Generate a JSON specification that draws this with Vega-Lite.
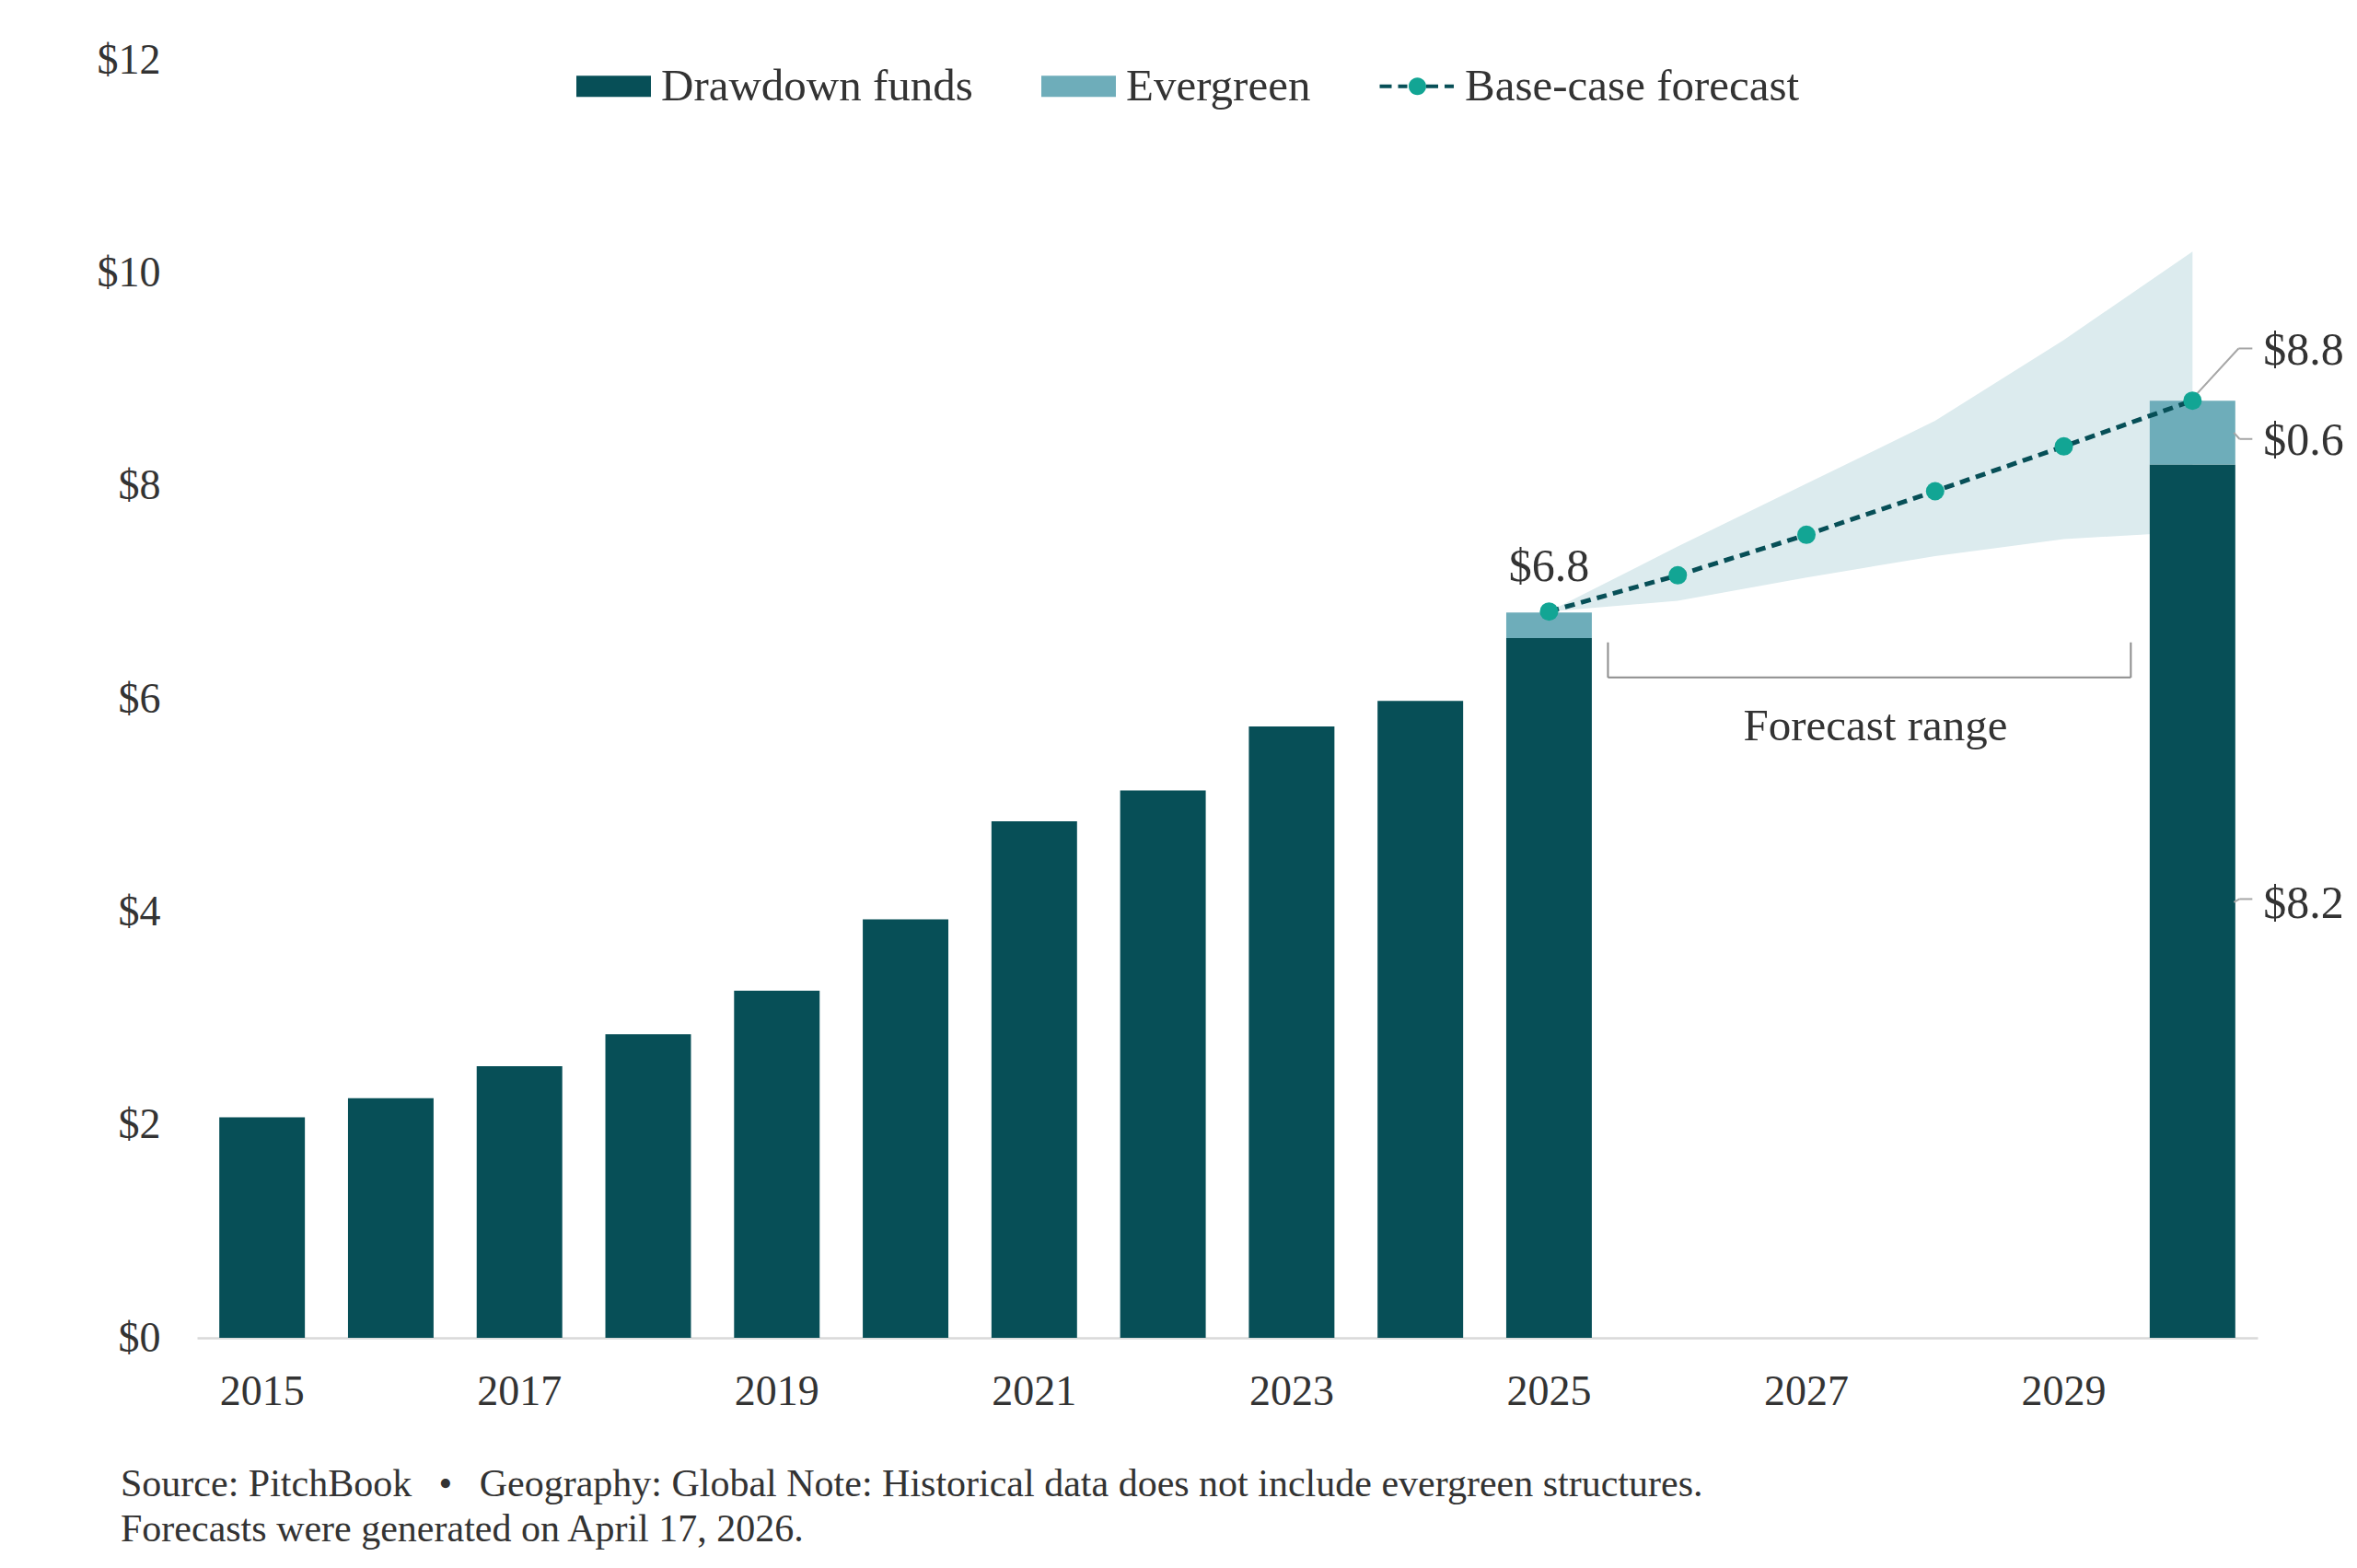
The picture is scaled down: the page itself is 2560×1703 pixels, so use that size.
{
  "$schema": "https://vega.github.io/schema/vega-lite/v6.json",
  "width": 2238,
  "height": 1388,
  "autosize": {"type": "none"},
  "padding": {"left": 214, "top": 65, "right": 108, "bottom": 250},
  "background": "white",
  "config": {
    "view": {"stroke": null},
    "font": "Liberation Serif",
    "axis": {"labelFont": "Liberation Serif", "labelColor": "#333333", "grid": false, "ticks": false, "title": null},
    "legend": {"labelFont": "Liberation Serif"}
  },
  "title": {
    "text": ["Source: PitchBook\u2002\u2009•\u2002\u2009Geography: Global Note: Historical data does not include evergreen structures.", "Forecasts were generated on April 17, 2026."],
    "orient": "bottom",
    "anchor": "start",
    "frame": "group",
    "dx": -83,
    "offset": 58,
    "fontSize": 42,
    "fontWeight": "normal",
    "font": "Liberation Serif",
    "color": "#333333",
    "lineHeight": 49,
    "baseline": "top"
  },
  "datasets": {
    "bars": [
      {"year": 2015, "series": "Drawdown funds", "value": 2.07},
      {"year": 2016, "series": "Drawdown funds", "value": 2.25},
      {"year": 2017, "series": "Drawdown funds", "value": 2.55},
      {"year": 2018, "series": "Drawdown funds", "value": 2.85},
      {"year": 2019, "series": "Drawdown funds", "value": 3.26},
      {"year": 2020, "series": "Drawdown funds", "value": 3.93},
      {"year": 2021, "series": "Drawdown funds", "value": 4.85},
      {"year": 2022, "series": "Drawdown funds", "value": 5.14},
      {"year": 2023, "series": "Drawdown funds", "value": 5.74},
      {"year": 2024, "series": "Drawdown funds", "value": 5.98},
      {"year": 2025, "series": "Drawdown funds", "value": 6.57},
      {"year": 2025, "series": "Evergreen", "value": 0.24},
      {"year": 2030, "series": "Drawdown funds", "value": 8.2},
      {"year": 2030, "series": "Evergreen", "value": 0.6}
    ],
    "forecast": [
      {"year": 2025, "value": 6.82, "lo": 6.82, "hi": 6.82},
      {"year": 2026, "value": 7.16, "lo": 6.92, "hi": 7.43},
      {"year": 2027, "value": 7.54, "lo": 7.14, "hi": 8.02},
      {"year": 2028, "value": 7.95, "lo": 7.34, "hi": 8.61},
      {"year": 2029, "value": 8.37, "lo": 7.5, "hi": 9.37},
      {"year": 2030, "value": 8.8, "lo": 7.57, "hi": 10.2}
    ],
    "bracket": [{"start": 2025, "end": 2030, "y": 6.2, "top": 6.53, "mid": 2027, "labely": 5.74, "label": "Forecast range"}],
    "leaderMain": [{"year": 2030, "y": 8.82, "y2": 9.29}],
    "leaderSmall": [
      {"year": 2030, "y": 8.5, "y2": 8.44},
      {"year": 2030, "y": 4.09, "y2": 4.12}
    ],
    "topLabel": [{"year": 2025, "y": 7.24, "label": "$6.8"}],
    "rightLabels": [
      {"year": 2030, "y": 9.27, "label": "$8.8"},
      {"year": 2030, "y": 8.42, "label": "$0.6"},
      {"year": 2030, "y": 4.07, "label": "$8.2"}
    ]
  },
  "layer": [
    {
      "data": {"name": "forecast"},
      "mark": {"type": "area", "color": "#dcebee", "opacity": 1},
      "encoding": {
        "x": {
          "field": "year", "type": "ordinal",
          "scale": {"domain": [2015,2016,2017,2018,2019,2020,2021,2022,2023,2024,2025,2026,2027,2028,2029,2030], "paddingInner": 0.335, "paddingOuter": 0.173},
          "axis": {"values": [2015,2017,2019,2021,2023,2025,2027,2029], "labelAngle": 0, "domain": true, "domainColor": "#d9d9d9", "domainWidth": 2.5, "labelFontSize": 46, "labelPadding": 36, "title": null}
        },
        "y": {
          "field": "lo", "type": "quantitative",
          "scale": {"domain": [0, 12], "nice": false, "zero": true},
          "axis": {"values": [0,2,4,6,8,10,12], "labelExpr": "'$' + datum.value", "domain": false, "labelFontSize": 46, "labelPadding": 40, "title": null}
        },
        "y2": {"field": "hi"}
      }
    },
    {
      "data": {"name": "bars"},
      "mark": {"type": "bar"},
      "encoding": {
        "x": {"field": "year", "type": "ordinal"},
        "y": {"field": "value", "type": "quantitative", "stack": "zero"},
        "order": {"field": "series", "sort": "ascending"},
        "color": {
          "field": "series", "type": "nominal",
          "scale": {"domain": ["Drawdown funds", "Evergreen", "Base-case forecast"], "range": ["#074f57", "#6eadba", "#12a594"]},
          "legend": {
            "orient": "none", "legendX": 410, "legendY": -14, "direction": "horizontal",
            "title": null, "padding": 0,
            "symbolSize": 6561, "symbolStrokeWidth": 4,
            "labelFontSize": 49, "labelColor": "#333333", "labelOffset": 9, "columnPadding": 66, "labelLimit": 2000,
            "encode": {
              "symbols": {
                "update": {
                  "shape": {"signal": "datum.value === 'Base-case forecast' ? 'M-1.012,0H-0.235A0.235,0.235,0,1,0,0.235,0A0.235,0.235,0,1,0,-0.235,0M0.235,0H1.012' : 'M-1,-0.284H1V0.284H-1Z'"},
                  "stroke": {"signal": "datum.value === 'Base-case forecast' ? '#074f57' : 'transparent'"},
                  "strokeDash": {"value": [13, 7, 10, 63.7, 10, 7, 13, 300]},
                  "opacity": {"value": 1},
                  "fillOpacity": {"value": 1}
                }
              }
            }
          }
        }
      }
    },
    {
      "data": {"name": "bracket"},
      "mark": {"type": "rule", "color": "#8c8c8c", "strokeWidth": 2, "xOffset": 64, "x2Offset": -67},
      "encoding": {
        "x": {"field": "start", "type": "ordinal"},
        "x2": {"field": "end"},
        "y": {"field": "y", "type": "quantitative"}
      }
    },
    {
      "data": {"name": "bracket"},
      "mark": {"type": "rule", "color": "#8c8c8c", "strokeWidth": 2, "xOffset": 64},
      "encoding": {
        "x": {"field": "start", "type": "ordinal"},
        "y": {"field": "y", "type": "quantitative"},
        "y2": {"field": "top"}
      }
    },
    {
      "data": {"name": "bracket"},
      "mark": {"type": "rule", "color": "#8c8c8c", "strokeWidth": 2, "xOffset": -67},
      "encoding": {
        "x": {"field": "end", "type": "ordinal"},
        "y": {"field": "y", "type": "quantitative"},
        "y2": {"field": "top"}
      }
    },
    {
      "data": {"name": "bracket"},
      "mark": {"type": "text", "font": "Liberation Serif", "fontSize": 49, "color": "#333333", "align": "center", "baseline": "middle", "dx": 75},
      "encoding": {
        "x": {"field": "mid", "type": "ordinal"},
        "y": {"field": "labely", "type": "quantitative"},
        "text": {"field": "label"}
      }
    },
    {
      "data": {"name": "leaderMain"},
      "mark": {"type": "rule", "color": "#a6a6a6", "strokeWidth": 2, "xOffset": 0, "x2Offset": 50},
      "encoding": {
        "x": {"field": "year", "type": "ordinal"},
        "x2": {"field": "year"},
        "y": {"field": "y", "type": "quantitative"},
        "y2": {"field": "y2"}
      }
    },
    {
      "data": {"name": "leaderMain"},
      "mark": {"type": "rule", "color": "#a6a6a6", "strokeWidth": 2, "xOffset": 50, "x2Offset": 65},
      "encoding": {
        "x": {"field": "year", "type": "ordinal"},
        "x2": {"field": "year"},
        "y": {"field": "y2", "type": "quantitative"}
      }
    },
    {
      "data": {"name": "leaderSmall"},
      "mark": {"type": "rule", "color": "#a6a6a6", "strokeWidth": 2, "xOffset": 45, "x2Offset": 51},
      "encoding": {
        "x": {"field": "year", "type": "ordinal"},
        "x2": {"field": "year"},
        "y": {"field": "y", "type": "quantitative"},
        "y2": {"field": "y2"}
      }
    },
    {
      "data": {"name": "leaderSmall"},
      "mark": {"type": "rule", "color": "#a6a6a6", "strokeWidth": 2, "xOffset": 51, "x2Offset": 65},
      "encoding": {
        "x": {"field": "year", "type": "ordinal"},
        "x2": {"field": "year"},
        "y": {"field": "y2", "type": "quantitative"}
      }
    },
    {
      "data": {"name": "forecast"},
      "mark": {"type": "line", "color": "#074f57", "strokeWidth": 5, "strokeDash": [11, 7]},
      "encoding": {
        "x": {"field": "year", "type": "ordinal"},
        "y": {"field": "value", "type": "quantitative"}
      }
    },
    {
      "data": {"name": "forecast"},
      "mark": {"type": "circle", "color": "#12a594", "opacity": 1, "size": 400},
      "encoding": {
        "x": {"field": "year", "type": "ordinal"},
        "y": {"field": "value", "type": "quantitative"}
      }
    },
    {
      "data": {"name": "topLabel"},
      "mark": {"type": "text", "font": "Liberation Serif", "fontSize": 50, "color": "#333333", "align": "center", "baseline": "middle"},
      "encoding": {
        "x": {"field": "year", "type": "ordinal"},
        "y": {"field": "y", "type": "quantitative"},
        "text": {"field": "label"}
      }
    },
    {
      "data": {"name": "rightLabels"},
      "mark": {"type": "text", "font": "Liberation Serif", "fontSize": 50, "color": "#333333", "align": "left", "baseline": "middle", "dx": 77},
      "encoding": {
        "x": {"field": "year", "type": "ordinal"},
        "y": {"field": "y", "type": "quantitative"},
        "text": {"field": "label"}
      }
    }
  ]
}
